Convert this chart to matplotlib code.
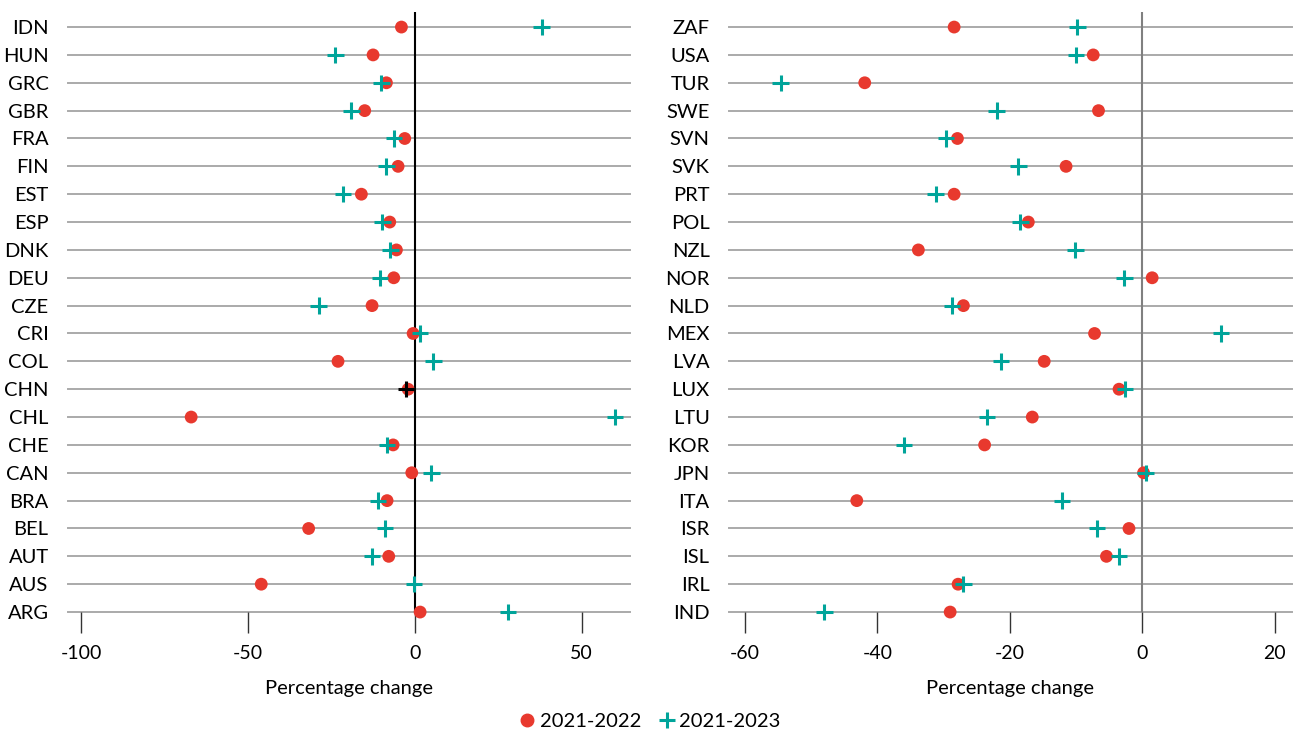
import numpy as np
import matplotlib.pyplot as plt

plt.rcParams['font.family'] = ['Lato', 'DejaVu Sans']

RED = '#e8392e'
TEAL = '#00a49a'

# left panel, top to bottom
left_countries = ['IDN', 'HUN', 'GRC', 'GBR', 'FRA', 'FIN', 'EST', 'ESP', 'DNK', 'DEU', 'CZE',
                  'CRI', 'COL', 'CHN', 'CHL', 'CHE', 'CAN', 'BRA', 'BEL', 'AUT', 'AUS', 'ARG']
left_2022 = [-4.0, -12.5, -8.5, -15.0, -3.0, -5.0, -16.0, -7.5, -5.5, -6.3, -12.8,
             -0.5, -23.0, -2.0, -67.0, -6.5, -0.9, -8.3, -31.8, -7.8, -46.0, 1.6]
left_2023 = [38.0, -23.8, -10.0, -19.0, -6.3, -8.5, -21.5, -9.7, -7.3, -10.5, -28.8,
             1.6, 5.6, -2.5, 60.0, -8.3, 5.0, -11.0, -9.0, -12.8, -0.3, 27.9]

# right panel, top to bottom
right_countries = ['ZAF', 'USA', 'TUR', 'SWE', 'SVN', 'SVK', 'PRT', 'POL', 'NZL', 'NOR', 'NLD',
                   'MEX', 'LVA', 'LUX', 'LTU', 'KOR', 'JPN', 'ITA', 'ISR', 'ISL', 'IRL', 'IND']
right_2022 = [-28.4, -7.4, -41.9, -6.6, -27.9, -11.5, -28.4, -17.2, -33.8, 1.5, -27.0,
              -7.2, -14.8, -3.5, -16.6, -23.8, 0.2, -43.1, -2.0, -5.4, -27.8, -29.0]
right_2023 = [-9.8, -10.0, -54.6, -22.0, -29.6, -18.7, -31.2, -18.4, -10.1, -2.7, -28.7,
              11.9, -21.3, -2.6, -23.4, -36.0, 0.5, -12.1, -6.8, -3.5, -27.0, -48.0]

highlight = ['CHN']  # drawn with a black cross

left_ticks = [-100, -50, 0, 50]
right_ticks = [-60, -40, -20, 0, 20]


def draw_panel(ax, countries, v22, v23, xlim, ticks, zero_color):
  n = len(countries)
  ypos = np.arange(n)[::-1]
  for y in ypos:
    ax.axhline(y, color='#aaaaaa', lw=1.4, zorder=1, clip_on=False)
  ax.axvline(0, color=zero_color, lw=1.5, zorder=2)
  ax.scatter(v22, ypos, s=85, color=RED, marker='o', zorder=3, clip_on=False,
             edgecolors='none')
  cols = ['black' if c in highlight else TEAL for c in countries]
  ax.scatter(v23, ypos, s=140, c=cols, marker='+', linewidths=2.2, zorder=4, clip_on=False)
  ax.set_xlim(*xlim)
  ax.set_ylim(0, n - 1 + 0.54)
  ax.set_yticks(ypos)
  ax.set_yticklabels(countries, fontsize=14.5)
  ax.tick_params(axis='y', length=0, pad=14)
  ax.set_xticks(ticks)
  ax.set_xticklabels([str(t) for t in ticks], fontsize=14)
  ax.tick_params(axis='x', direction='out', length=15, width=1, color='#333333', pad=9)
  for s in ax.spines.values():
    s.set_visible(False)
  ax.set_xlabel('Percentage change', fontsize=14.5, labelpad=13)


fig = plt.figure(figsize=(12.98, 7.33), dpi=100)
ax1 = fig.add_axes([0.0524, 0.165, 0.433, 0.8186])
ax2 = fig.add_axes([0.5616, 0.165, 0.4337, 0.8186])

draw_panel(ax1, left_countries, left_2022, left_2023, (-103.9, 64.5), left_ticks, 'black')
draw_panel(ax2, right_countries, right_2022, right_2023, (-62.4, 22.6), right_ticks, '#808080')

h1 = plt.Line2D([], [], color=RED, marker='o', ls='none', markersize=9)
h2 = plt.Line2D([], [], color=TEAL, marker='+', ls='none', markersize=12, mew=2.2)
fig.legend([h1, h2], ['2021-2022', '2021-2023'], loc='center', bbox_to_anchor=(0.5, 0.016),
           ncol=2, frameon=False, fontsize=14.5, handletextpad=0.1, columnspacing=0.8,
           handlelength=1.0)

fig.savefig('out.png', dpi=100)
